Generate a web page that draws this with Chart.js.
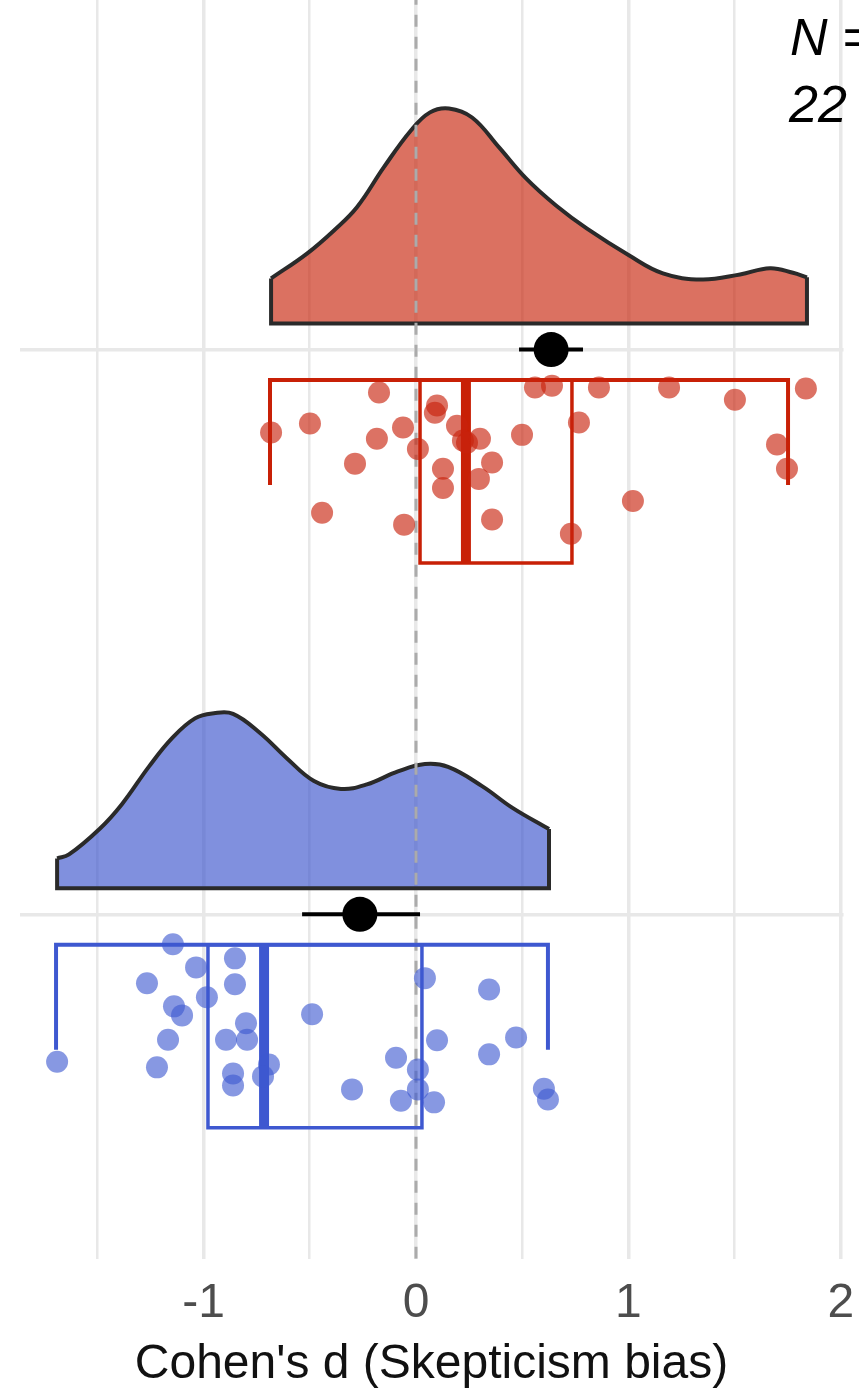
<!DOCTYPE html>
<html>
<head>
<meta charset="utf-8">
<title>Cohen's d (Skepticism bias)</title>
<script src="https://cdn.jsdelivr.net/npm/chart.js@4.4.1/dist/chart.umd.min.js"></script>
<style>
  html, body { margin: 0; padding: 0; background: #fff; }
  #wrap { width: 859px; height: 1390px; overflow: hidden; }
</style>
</head>
<body>
<div id="wrap"><canvas id="chart" width="859" height="1390"></canvas></div>
<script>
// ── Axis ticks ────────────────────────────────────────────────
const xTicks  = [-1.5, -1, -0.5, 0, 0.5, 1, 1.5, 2];
const xLabels = ['', '-1', '', '0', '', '1', '', '2'];

// ── Red group (upper) ─────────────────────────────────────────
const redX = [-0.682, -0.499, -0.174, -0.184, -0.287, -0.442, -0.061, -0.056, 0.009, 0.099,
              0.089, 0.193, 0.221, 0.240, 0.301, 0.127, 0.127, 0.358, 0.296, 0.358,
              0.499, 0.560, 0.640, 0.861, 1.191, 1.501, 1.835, 0.767, 1.699, 1.746,
              1.021, 0.729];
const redY = [1.853, 1.869, 1.924, 1.842, 1.798, 1.711, 1.862, 1.690, 1.824, 1.901,
              1.888, 1.865, 1.839, 1.835, 1.842, 1.789, 1.755, 1.800, 1.771, 1.699,
              1.849, 1.933, 1.936, 1.933, 1.933, 1.911, 1.931, 1.871, 1.832, 1.789,
              1.732, 1.674];
const redDensX = [-0.682, -0.513, -0.386, -0.278, -0.151, -0.024, 0.066, 0.155, 0.264, 0.391,
                  0.518, 0.659, 0.805, 1.002, 1.162, 1.346, 1.525, 1.666, 1.774, 1.840];
const redDensH = [0.080, 0.124, 0.165, 0.206, 0.277, 0.342, 0.374, 0.381, 0.365, 0.312,
                  0.257, 0.209, 0.168, 0.121, 0.089, 0.078, 0.087, 0.098, 0.090, 0.082];
const redBox  = [-0.687, 0.019, 0.235, 0.734, 1.751];   // lo, q1, median, q3, hi
const redMean = 0.636;
const redCI   = [0.485, 0.786];

// ── Blue group (lower) ────────────────────────────────────────
const blueX = [-1.689, -1.144, -1.035, -1.266, -0.984, -1.139, -1.101, -1.167, -1.219, -0.852,
               -0.852, -0.800, -0.894, -0.795, -0.861, -0.861, -0.692, -0.720, -0.489, 0.042,
               0.344, 0.099, 0.471, -0.094, 0.344, 0.009, -0.301, 0.009, -0.071, 0.085,
               0.602, 0.621];
const blueY = [0.739, 0.947, 0.906, 0.878, 0.853, 0.837, 0.821, 0.778, 0.729, 0.922,
               0.876, 0.807, 0.778, 0.778, 0.718, 0.697, 0.734, 0.713, 0.823, 0.887,
               0.867, 0.777, 0.782, 0.746, 0.752, 0.725, 0.690, 0.690, 0.670, 0.667,
               0.691, 0.672];
const blueDensX = [-1.689, -1.633, -1.487, -1.384, -1.256, -1.148, -1.040, -0.951, -0.861, -0.734,
                   -0.607, -0.480, -0.353, -0.231, -0.085, 0.042, 0.151, 0.311, 0.456, 0.626];
const blueDensH = [0.053, 0.060, 0.106, 0.149, 0.216, 0.266, 0.301, 0.310, 0.309, 0.275,
                   0.230, 0.190, 0.176, 0.184, 0.207, 0.220, 0.215, 0.181, 0.142, 0.105];
const blueBox  = [-1.694, -0.979, -0.715, 0.028, 0.621];
const blueMean = -0.264;
const blueCI   = [-0.536, 0.019];

// ── Layout (y offsets from each group's row) ──────────────────
const Y_MIN = 0.39, Y_MAX = 2.619;
const X_MIN = -1.866, X_MAX = 2.012;
const DENS_BASE  = 0.046;   // density baseline above row
const WHISK_TOP  = 0.054;   // whisker / box top below row
const WHISK_END  = 0.240;   // whisker end ticks
const BOX_BOTTOM = 0.378;
const FONT = "'Liberation Sans', Arial, Helvetica, sans-serif";

const lineDs = (data, color, width, order, extra = {}) => Object.assign({
  type: 'line', data, borderColor: color, borderWidth: width, pointRadius: 0,
  tension: 0, fill: false, order, borderJoinStyle: 'miter', borderCapStyle: 'butt'
}, extra);

const groupDatasets = (row, xs, ys, dX, dH, box, mean, ci, lineCol, fillCol, ptCol) => {
  const base  = row + DENS_BASE;
  const curve = dX.map((x, i) => ({ x, y: base + dH[i] }));
  const n     = dX.length - 1;
  const top   = row - WHISK_TOP;
  const wEnd  = row - WHISK_END;
  const bot   = row - BOX_BOTTOM;
  const [lo, q1, med, q3, hi] = box;
  return [
    // density (half violin)
    lineDs(curve, '#2a2a2a', 4, 50, {
      tension: 0.4, fill: { value: base }, backgroundColor: fillCol, borderJoinStyle: 'round'
    }),
    lineDs([{ x: dX[0], y: base + dH[0] }, { x: dX[0], y: base },
            { x: dX[n], y: base }, { x: dX[n], y: base + dH[n] }], '#2a2a2a', 4, 49),
    // whiskers
    lineDs([{ x: lo, y: wEnd }, { x: lo, y: top }, { x: hi, y: top }, { x: hi, y: wEnd }], lineCol, 4, 30),
    // box
    lineDs([{ x: q1, y: top }, { x: q3, y: top }, { x: q3, y: bot }, { x: q1, y: bot }, { x: q1, y: top }], lineCol, 3.5, 29),
    // median
    lineDs([{ x: med, y: top }, { x: med, y: bot }], lineCol, 10, 28),
    // jittered points
    {
      type: 'scatter', data: xs.map((x, i) => ({ x, y: ys[i] })),
      backgroundColor: ptCol, borderWidth: 0, pointRadius: 11, order: 20
    },
    // mean + interval
    lineDs([{ x: ci[0], y: row }, { x: ci[1], y: row }], '#000', 4, 11),
    {
      type: 'scatter', data: [{ x: mean, y: row }],
      backgroundColor: '#000', borderWidth: 0, pointRadius: 17.5, order: 10
    }
  ];
};

const datasets = [
  ...groupDatasets(2, redX, redY, redDensX, redDensH, redBox, redMean, redCI,
                   'rgb(200,32,6)', 'rgba(200,40,15,0.66)', 'rgba(200,35,12,0.64)'),
  ...groupDatasets(1, blueX, blueY, blueDensX, blueDensH, blueBox, blueMean, blueCI,
                   'rgb(62,88,208)', 'rgba(60,85,205,0.65)', 'rgba(62,88,208,0.62)'),
  // zero reference line
  lineDs([{ x: 0, y: Y_MIN }, { x: 0, y: Y_MAX }], '#ababab', 3, 40, { borderDash: [12, 10] })
];

// ── Annotation text (N) ───────────────────────────────────────
const nLabel = {
  id: 'nLabel',
  afterDraw(chart) {
    const ctx = chart.ctx;
    ctx.save();
    ctx.fillStyle = '#000';
    ctx.font = 'italic 52px ' + FONT;
    ctx.textBaseline = 'alphabetic';
    ctx.fillText('N =', 790, 55);
    ctx.fillText('22', 789, 122);
    ctx.restore();
  }
};

const noPad = axis => {
  axis.paddingLeft = 0; axis.paddingRight = 0;
  axis.paddingTop = 0;  axis.paddingBottom = 0;
};

// ── Chart ─────────────────────────────────────────────────────
new Chart(document.getElementById('chart'), {
  type: 'scatter',
  data: { datasets },
  options: {
    animation: false,
    responsive: false,
    events: [],
    layout: { autoPadding: false, padding: { left: 19.5, right: 15.5, top: 0, bottom: 0 } },
    plugins: { legend: { display: false }, tooltip: { enabled: false } },
    scales: {
      x: {
        type: 'linear', min: X_MIN, max: X_MAX,
        afterBuildTicks: axis => { axis.ticks = xTicks.map(value => ({ value })); },
        afterFit: noPad,
        ticks: {
          autoSkip: false, maxRotation: 0, padding: 16, color: '#4d4d4d',
          font: { family: FONT, size: 48 },
          callback: (v, i) => xLabels[i]
        },
        grid: {
          color: '#e8e8e8', drawTicks: false,
          lineWidth: ctx => (ctx.tick && Number.isInteger(ctx.tick.value) ? 3.5 : 2.5)
        },
        border: { display: false },
        title: {
          display: true, text: "Cohen's d (Skepticism bias)", color: '#111',
          font: { family: FONT, size: 48 }, padding: { top: -12, bottom: -4 }
        }
      },
      y: {
        type: 'linear', min: Y_MIN, max: Y_MAX,
        afterBuildTicks: axis => { axis.ticks = [{ value: 1 }, { value: 2 }]; },
        afterFit: noPad,
        ticks: { display: false },
        grid: { color: '#e8e8e8', lineWidth: 3.5, drawTicks: false },
        border: { display: false }
      }
    }
  },
  plugins: [nLabel]
});
</script>
</body>
</html>
